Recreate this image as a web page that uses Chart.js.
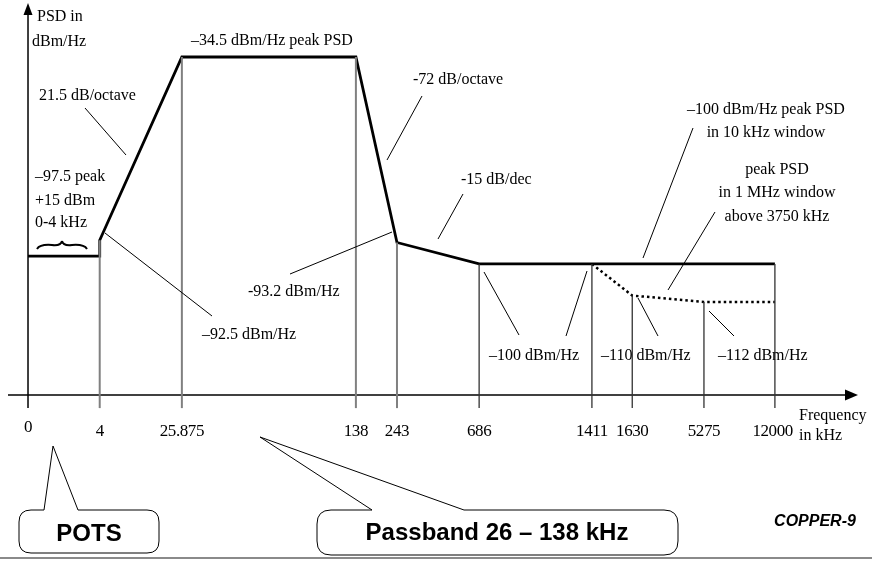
<!DOCTYPE html>
<html>
<head>
<meta charset="utf-8">
<script src="https://cdn.jsdelivr.net/npm/chart.js@4/dist/chart.umd.min.js"></script>
<style>
  html, body { margin: 0; padding: 0; background: #fff; }
  #wrap { width: 872px; height: 567px; position: relative; }
</style>
</head>
<body>
<div id="wrap"><canvas id="psd"></canvas></div>
<script>
// Frequency breakpoints (kHz), their tick labels, and their place on the schematic
// (not to scale) frequency axis, in axis units from 0 to 100.
const freqKHz    = [0, 4, 25.875, 138, 243, 686, 1411, 1630, 5275, 12000];
const freqLabels = ['0', '4', '25.875', '138', '243', '686', '1411', '1630', '5275', '12000'];
const axisSlot   = [0, 9.6, 20.6, 43.9, 49.4, 60.4, 75.5, 80.9, 90.5, 100];

// Transmit PSD mask, dBm/Hz
const maskFreq = [0, 4, 4, 25.875, 138, 243, 686, 12000];
const maskPSD  = [-97.5, -97.5, -92.5, -34.5, -34.5, -93.2, -100, -100];

// Peak PSD in a 1 MHz window (dotted)
const windowFreq = [1411, 1630, 5275, 12000];
const windowPSD  = [-100, -110, -112, -112];

// Drop lines from the frequency axis up to the mask
const dropFreqMain = [4, 25.875, 138, 243];
const dropTopMain  = [-92.5, -34.5, -34.5, -93.2];
const dropFreqHigh = [686, 1411, 1630, 5275, 12000];
const dropTopHigh  = [-100, -100, -110, -112, -100];

// PSD level where the frequency axis is drawn
const axisLevel = -141.5;

const slot = f => axisSlot[freqKHz.indexOf(f)];
const pts = (fs, vs) => fs.map((f, i) => ({ x: slot(f), y: vs[i] }));
const drops = (fs, tops) => {
  const out = [];
  fs.forEach((f, i) => {
    out.push({ x: slot(f), y: axisLevel }, { x: slot(f), y: tops[i] }, { x: slot(f), y: null });
  });
  return out;
};

const SERIF = '"Liberation Serif", "Times New Roman", serif';
const SANS = '"Liberation Sans", Arial, sans-serif';

function line(ctx, x1, y1, x2, y2, w = 1, col = '#000') {
  ctx.save();
  ctx.strokeStyle = col; ctx.lineWidth = w;
  ctx.beginPath(); ctx.moveTo(x1, y1); ctx.lineTo(x2, y2); ctx.stroke();
  ctx.restore();
}
function text(ctx, s, x, y, font, align = 'left') {
  ctx.save();
  ctx.font = font; ctx.fillStyle = '#000';
  ctx.textAlign = align; ctx.textBaseline = 'middle';
  ctx.fillText(s, x, y);
  ctx.restore();
}
function bubble(ctx, x0, y0, x1, y1, r, baseL, baseR, tipX, tipY) {
  ctx.save();
  ctx.beginPath();
  ctx.moveTo(x0, y0 + r);
  ctx.quadraticCurveTo(x0, y0, x0 + r, y0);
  ctx.lineTo(baseL, y0);
  ctx.lineTo(tipX, tipY);
  ctx.lineTo(baseR, y0);
  ctx.lineTo(x1 - r, y0);
  ctx.quadraticCurveTo(x1, y0, x1, y0 + r);
  ctx.lineTo(x1, y1 - r);
  ctx.quadraticCurveTo(x1, y1, x1 - r, y1);
  ctx.lineTo(x0 + r, y1);
  ctx.quadraticCurveTo(x0, y1, x0, y1 - r);
  ctx.closePath();
  ctx.fillStyle = '#fff'; ctx.fill();
  ctx.strokeStyle = '#000'; ctx.lineWidth = 1; ctx.stroke();
  ctx.restore();
}

// Axes, tick labels, notes and call-outs
const diagram = {
  id: 'diagram',
  beforeDatasetsDraw(chart) {
    const { ctx, scales: { x, y } } = chart;
    const ax = y.getPixelForValue(axisLevel);
    const x0 = x.getPixelForValue(0);
    // frequency axis with arrow
    line(ctx, 8, ax, 848, ax, 1.5);
    ctx.save(); ctx.fillStyle = '#000'; ctx.beginPath();
    ctx.moveTo(858, ax); ctx.lineTo(845, ax - 5.5); ctx.lineTo(845, ax + 5.5); ctx.closePath(); ctx.fill(); ctx.restore();
    // PSD axis with arrow
    line(ctx, x0, ax + 13, x0, 14, 1.5);
    ctx.save(); ctx.fillStyle = '#000'; ctx.beginPath();
    ctx.moveTo(x0, 3); ctx.lineTo(x0 - 4.5, 15); ctx.lineTo(x0 + 4.5, 15); ctx.closePath(); ctx.fill(); ctx.restore();
    // tick stubs below the axis
    dropFreqMain.forEach(f => { const p = x.getPixelForValue(slot(f)); line(ctx, p, ax, p, ax + 13, 2, '#808080'); });
    dropFreqHigh.forEach(f => { const p = x.getPixelForValue(slot(f)); line(ctx, p, ax, p, ax + 13, 1.3, '#333'); });
    // tick labels; the last one is kept clear of the axis title
    freqLabels.forEach((s, i) => {
      const p = x.getPixelForValue(axisSlot[i]);
      const last = i === freqLabels.length - 1;
      ctx.save();
      ctx.letterSpacing = '-0.4px';
      text(ctx, s, last ? p + 18 : p, i === 0 ? 428 : 432, '17px ' + SERIF, last ? 'right' : 'center');
      ctx.restore();
    });
    text(ctx, 'Frequency', 799, 416, '16px ' + SERIF);
    text(ctx, 'in kHz', 799, 436, '16px ' + SERIF);
  },
  afterDatasetsDraw(chart) {
    const { ctx } = chart;
    const f16 = '16px ' + SERIF;
    text(ctx, 'PSD in', 37, 17, f16);
    text(ctx, 'dBm/Hz', 32, 42, f16);
    text(ctx, '\u201334.5 dBm/Hz peak PSD', 272, 41, f16, 'center');
    text(ctx, '21.5 dB/octave', 39, 96, f16);
    line(ctx, 85, 108, 126, 155);
    text(ctx, '\u201397.5 peak', 35, 177, f16);
    text(ctx, '+15 dBm', 35, 201, f16);
    text(ctx, '0-4 kHz', 35, 223, f16);
    // brace over the 0-4 kHz band
    ctx.save(); ctx.strokeStyle = '#000'; ctx.lineWidth = 2; ctx.beginPath();
    ctx.moveTo(37, 249); ctx.quadraticCurveTo(40, 244, 52, 245); ctx.quadraticCurveTo(61, 246, 62, 241);
    ctx.moveTo(87, 249); ctx.quadraticCurveTo(84, 244, 72, 245); ctx.quadraticCurveTo(63, 246, 62, 241);
    ctx.stroke(); ctx.restore();
    line(ctx, 105, 233, 212, 316);
    text(ctx, '\u201392.5 dBm/Hz', 202, 335, f16);
    text(ctx, '-93.2 dBm/Hz', 248, 292, f16);
    line(ctx, 290, 274, 392, 232);
    text(ctx, '-72 dB/octave', 413, 80, f16);
    line(ctx, 422, 96, 387, 160);
    text(ctx, '-15 dB/dec', 461, 180, f16);
    line(ctx, 463, 194, 438, 239);
    text(ctx, '\u2013100 dBm/Hz peak PSD', 766, 110, f16, 'center');
    text(ctx, 'in 10 kHz window', 766, 133, f16, 'center');
    line(ctx, 693, 128, 643, 258);
    text(ctx, 'peak PSD', 777, 170, f16, 'center');
    text(ctx, 'in 1 MHz window', 777, 193, f16, 'center');
    text(ctx, 'above 3750 kHz', 777, 217, f16, 'center');
    line(ctx, 715, 212, 668, 290);
    text(ctx, '\u2013100 dBm/Hz', 489, 356, f16);
    line(ctx, 484, 272, 519, 335);
    line(ctx, 587, 271, 566, 336);
    text(ctx, '\u2013110 dBm/Hz', 601, 356, f16);
    line(ctx, 638, 298, 658, 336);
    text(ctx, '\u2013112 dBm/Hz', 718, 356, f16);
    line(ctx, 709, 311, 734, 336);

    // call-outs
    bubble(ctx, 19, 510, 159, 553, 12, 44, 78, 53, 446);
    text(ctx, 'POTS', 89, 534, 'bold 24px ' + SANS, 'center');
    bubble(ctx, 317, 510, 678, 555, 14, 372, 464, 260, 437);
    text(ctx, 'Passband 26 \u2013 138 kHz', 497, 533, 'bold 24px ' + SANS, 'center');
    text(ctx, 'COPPER-9', 815, 522, 'italic bold 16px ' + SANS, 'center');

    // frame rule along the bottom
    line(ctx, 0, 558, 872, 558, 2, '#8a8a8a');
  }
};

new Chart(document.getElementById('psd'), {
  type: 'scatter',
  data: {
    datasets: [
      { data: drops(dropFreqMain, dropTopMain), showLine: true, borderColor: '#808080', borderWidth: 2, pointRadius: 0, spanGaps: false },
      { data: drops(dropFreqHigh, dropTopHigh), showLine: true, borderColor: '#333', borderWidth: 1.3, pointRadius: 0, spanGaps: false },
      { data: pts(windowFreq, windowPSD), showLine: true, borderColor: '#000', borderWidth: 2.5, borderDash: [2.5, 3], pointRadius: 0 },
      { data: pts(maskFreq, maskPSD), showLine: true, borderColor: '#000', borderWidth: 2.8, pointRadius: 0, borderJoinStyle: 'miter' }
    ]
  },
  options: {
    responsive: true,
    maintainAspectRatio: false,
    animation: false,
    layout: { padding: 0 },
    plugins: { legend: { display: false }, tooltip: { enabled: false }, title: { display: false } },
    scales: {
      x: { type: 'linear', min: -3.75, max: 113.0, display: false },
      y: { type: 'linear', min: -195.9, max: -16.46, display: false }
    }
  },
  plugins: [diagram]
});
</script>
</body>
</html>
